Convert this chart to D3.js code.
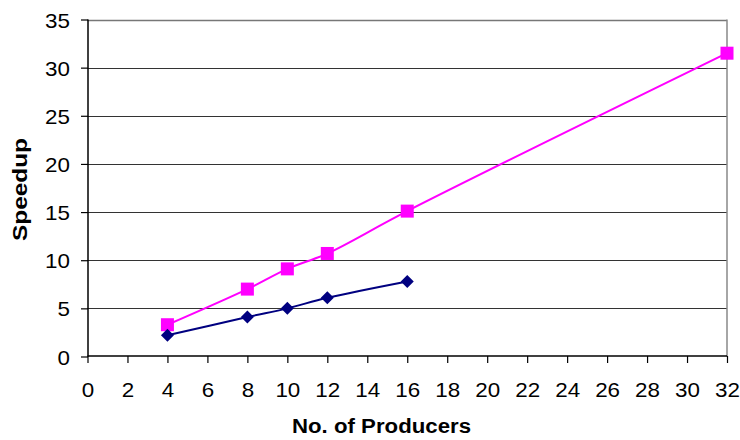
<!DOCTYPE html>
<html>
<head>
<meta charset="utf-8">
<script src="https://cdn.jsdelivr.net/npm/d3@7"></script>
<style>
  html, body { margin: 0; padding: 0; background: #fff; }
  svg { display: block; font-family: "Liberation Sans", Arial, sans-serif; }
</style>
</head>
<body>
<svg id="chart" width="740" height="440"></svg>
<script>
const producersA = [4, 8, 10, 12, 16];
const speedupA = [2.2, 4.1, 5.0, 6.1, 7.8];
const producersB = [4, 8, 10, 12, 16, 32];
const speedupB = [3.3, 7.0, 9.1, 10.7, 15.1, 31.5];
const xTicks = [0, 2, 4, 6, 8, 10, 12, 14, 16, 18, 20, 22, 24, 26, 28, 30, 32];
const yTicks = [0, 5, 10, 15, 20, 25, 30, 35];
const xTitle = "No. of Producers";
const yTitle = "Speedup";

(function () {
const svg = d3.select("#chart");
const pLeft = 87.5, pRight = 727, pTop = 19.5, pBottom = 356.5;
const sx = 1.12;
const x = d3.scaleLinear().domain([0, 32]).range([pLeft, pRight]);
const y = d3.scaleLinear().domain([0, 35]).range([pBottom, pTop]);

// gridlines
svg.append("g").selectAll("line").data(yTicks.filter(d => d > 0 && d < 35)).join("line")
  .attr("x1", pLeft).attr("x2", pRight)
  .attr("y1", d => Math.round(y(d)) + 0.5).attr("y2", d => Math.round(y(d)) + 0.5)
  .attr("stroke", "#333").attr("stroke-width", 1.2);

// plot border top/right (gray)
svg.append("line").attr("x1", pLeft).attr("x2", pRight).attr("y1", Math.round(y(35)) + 0.5).attr("y2", Math.round(y(35)) + 0.5)
  .attr("stroke", "#777").attr("stroke-width", 1.5);
svg.append("line").attr("x1", pRight).attr("x2", pRight).attr("y1", y(35)).attr("y2", pBottom)
  .attr("stroke", "#888").attr("stroke-width", 1.5);

// axes
const xAxis = d3.axisBottom(x).tickValues(xTicks).tickSize(7).tickPadding(20).tickFormat(d3.format("d"));
const yAxis = d3.axisLeft(y).tickValues(yTicks).tickSize(7).tickPadding(11).tickFormat(d3.format("d"));

const gx = svg.append("g").attr("transform", `translate(0,${pBottom - 0.5})`).call(xAxis);
const gy = svg.append("g").attr("transform", `translate(${Math.round(pLeft)},0)`).call(yAxis);
[gx, gy].forEach(g => {
  g.select(".domain").attr("stroke", "#000").attr("stroke-width", 1.5);
  g.selectAll(".tick line").attr("stroke", "#000").attr("stroke-width", 1.2);
  g.selectAll(".tick text").attr("fill", "#000").style("font-size", "20px")
    .style("font-family", "'Liberation Sans', Arial, sans-serif");
});
gx.select(".domain").attr("d", `M${pLeft},0H${pRight}`);
gy.select(".domain").attr("d", `M0,${y(35)}V${pBottom}`);
// horizontal stretch of tick labels like the reference
gx.selectAll(".tick text").attr("transform", `scale(${sx},1)`);
gy.selectAll(".tick text").each(function () {
  const t = d3.select(this);
  const tx = +t.attr("x");
  t.attr("x", 0).attr("dy", "0.38em").attr("transform", `translate(${tx},0) scale(${sx},1)`);
});

// lines
const line = d3.line().x(d => x(d[0])).y(d => y(d[1])).curve(d3.curveCatmullRom.alpha(0.5));
const dataA = producersA.map((p, i) => [p, speedupA[i]]);
const dataB = producersB.map((p, i) => [p, speedupB[i]]);

svg.append("path").datum(dataB).attr("d", line).attr("fill", "none")
  .attr("stroke", "#FF00FF").attr("stroke-width", 2);
svg.append("path").datum(dataA).attr("d", line).attr("fill", "none")
  .attr("stroke", "#000080").attr("stroke-width", 2);

// markers
svg.append("g").selectAll("rect").data(dataB).join("rect")
  .attr("x", d => x(d[0]) - 6.5).attr("y", d => y(d[1]) - 6.5)
  .attr("width", 13).attr("height", 13).attr("fill", "#FF00FF");
svg.append("g").selectAll("path").data(dataA).join("path")
  .attr("transform", d => `translate(${x(d[0])},${y(d[1])})`)
  .attr("d", "M0,-6.5L6.5,0L0,6.5L-6.5,0Z").attr("fill", "#000080");

// titles
svg.append("text").attr("x", 381.5).attr("y", 433).attr("text-anchor", "middle")
  .attr("textLength", 179).attr("lengthAdjust", "spacingAndGlyphs")
  .style("font-size", "20px").style("font-weight", "bold").attr("fill", "#000").text(xTitle);
svg.append("text").attr("transform", "translate(27,189.5) rotate(-90)").attr("text-anchor", "middle")
  .attr("textLength", 103).attr("lengthAdjust", "spacingAndGlyphs")
  .style("font-size", "20px").style("font-weight", "bold").attr("fill", "#000").text(yTitle);
})();
</script>
</body>
</html>
